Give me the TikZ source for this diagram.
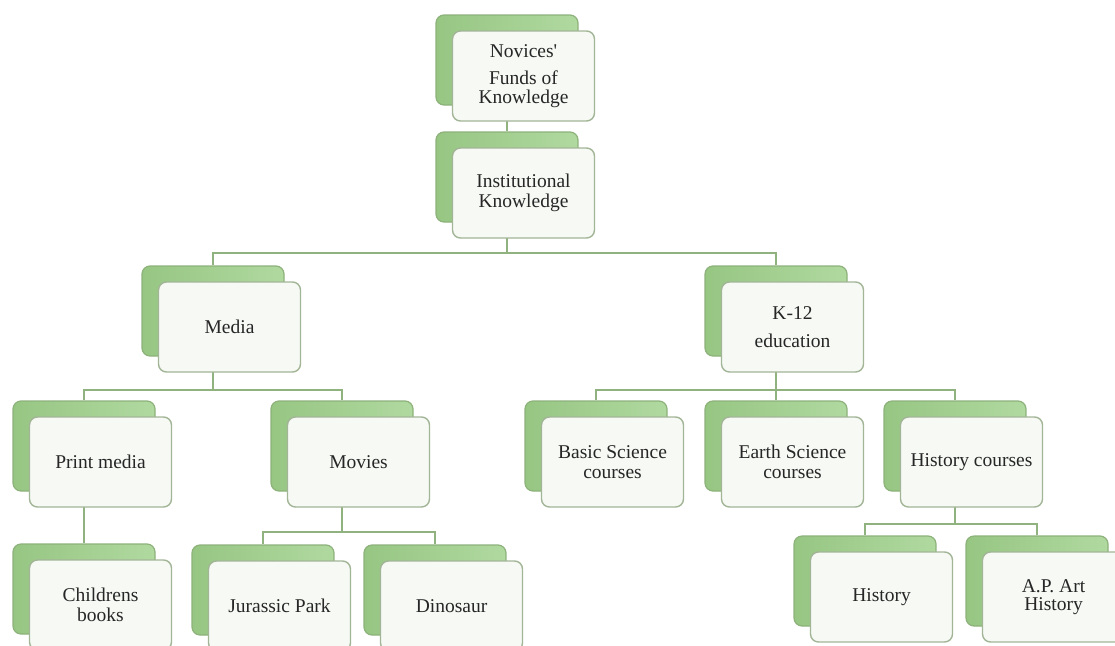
\documentclass[tikz,border=0pt]{standalone}
\usepackage{fontspec}
\setmainfont{Liberation Serif}[Ligatures=TeXOff]
\usetikzlibrary{backgrounds}

\definecolor{backline}{HTML}{8DB27B}
\definecolor{backleft}{HTML}{97C683}
\definecolor{backright}{HTML}{B0D9A0}
\definecolor{frontline}{HTML}{A3B597}
\definecolor{frontfill}{HTML}{F6F9F4}
\definecolor{connline}{HTML}{8FB27F}
\definecolor{labeltext}{HTML}{262626}

\tikzset{
  backbox/.style={draw=backline, line width=1.2pt, rounded corners=8pt,
    left color=backleft, right color=backright,
    minimum width=142pt, minimum height=90pt, inner sep=0pt},
  frontbox/.style={draw=frontline, line width=1.4pt, fill=frontfill,
    rounded corners=8pt, minimum width=142pt, minimum height=90pt,
    inner sep=2pt, align=center, text=labeltext,
    font=\fontsize{19.5}{19.5}\selectfont},
  conn/.style={draw=connline, line width=1.4pt},
}

% a green card with a white card laid over it, offset down and right
\newcommand\cardpair[4]{%
  \node[backbox] (#1-b) at (#2,#3) {};
  \node[frontbox] (#1) at ([shift={(16.5,16)}]#1-b.center) {#4};
}

\begin{document}
\begin{tikzpicture}[x=1pt,y=-1pt]
\useasboundingbox (0,0) rectangle (1115,645);
\clip (0,0) rectangle (1115,645);

% level 0 and 1
\cardpair{nov}{507}{60}{Novices'\\[8pt]Funds of\\[-1pt]Knowledge}
\cardpair{inst}{507}{177}{Institutional\\Knowledge}

% level 2
\cardpair{media}{213}{311}{Media}
\cardpair{k12}{776}{311}{K-12\\[8pt]education}

% level 3
\cardpair{print}{84}{446}{Print media}
\cardpair{movies}{342}{446}{Movies}
\cardpair{basic}{596}{446}{Basic Science\\courses}
\cardpair{earth}{776}{446}{Earth Science\\courses}
\cardpair{hist}{955}{446}{History courses}

% level 4
\cardpair{child}{84}{589}{Childrens\\books}
\cardpair{jur}{263}{590}{Jurassic Park}
\cardpair{dino}{435}{590}{Dinosaur}
\cardpair{histo}{865}{581}{History}
\cardpair{ap}{1037}{581}{A.P. Art\\[-1pt]History}

% white page, then the connectors, all behind the cards
\begin{scope}[on background layer]
  \fill[white] (0,0) rectangle (1115,645);
  \draw[conn] (nov-b.center) -- (inst-b.north);
  \draw[conn] (inst-b.center) -- ++(0,76) -| (media-b.north);
  \draw[conn] (inst-b.center) -- ++(0,76) -| (k12-b.north);
  \draw[conn] (media-b.center) -- ++(0,79) -| (print-b.north);
  \draw[conn] (media-b.center) -- ++(0,79) -| (movies-b.north);
  \draw[conn] (k12-b.center) -- ++(0,79) -| (basic-b.north);
  \draw[conn] (k12-b.center) -- ++(0,79) -| (earth-b.north);
  \draw[conn] (k12-b.center) -- ++(0,79) -| (hist-b.north);
  \draw[conn] (print-b.center) -- (child-b.north);
  \draw[conn] (movies-b.center) -- ++(0,86) -| (jur-b.north);
  \draw[conn] (movies-b.center) -- ++(0,86) -| (dino-b.north);
  \draw[conn] (hist-b.center) -- ++(0,78) -| (histo-b.north);
  \draw[conn] (hist-b.center) -- ++(0,78) -| (ap-b.north);
\end{scope}
\end{tikzpicture}
\end{document}
